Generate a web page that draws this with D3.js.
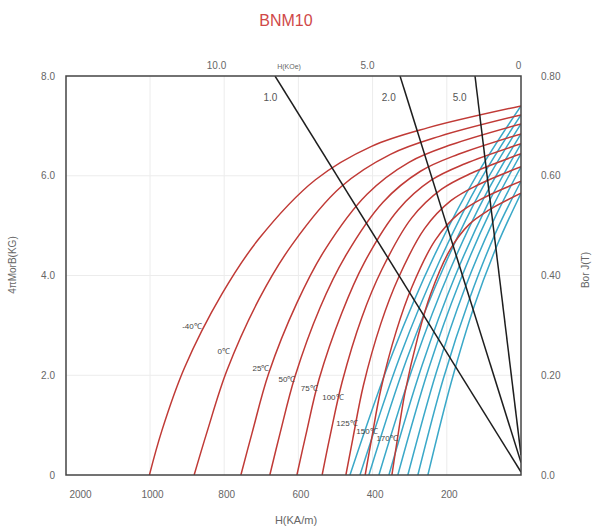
<!DOCTYPE html>
<html><head><meta charset="utf-8">
<script src="https://cdn.jsdelivr.net/npm/d3@7"></script>
<style>
body{margin:0;background:#fff;}
svg{font-family:"Liberation Sans",Arial,sans-serif;}
</style></head>
<body><svg id="c" width="600" height="530"></svg>
<script>
// ---------- data ----------
const title = "BNM10";
const temps = ["-40℃","0℃","25℃","50℃","75℃","100℃","125℃","150℃","170℃"];
// intrinsic (red) curves: [H kA/m, B kG]
const redCurves = [
  [[0,7.40],[252,6.96],[403,6.59],[554,5.92],[706,4.74],[806,3.63],[907,2.15],[968,0.89],[1008,0]],
  [[0,7.22],[220,6.79],[352,6.43],[485,5.78],[617,4.62],[705,3.54],[793,2.09],[846,0.87],[881,0]],
  [[0,7.04],[189,6.62],[302,6.27],[415,5.63],[529,4.51],[604,3.45],[680,2.04],[725,0.84],[755,0]],
  [[0,6.84],[169,6.43],[271,6.09],[372,5.47],[474,4.38],[542,3.35],[609,1.98],[650,0.82],[677,0]],
  [[0,6.64],[151,6.24],[242,5.91],[332,5.31],[423,4.25],[483,3.25],[544,1.93],[580,0.80],[604,0]],
  [[0,6.44],[134,6.05],[214,5.73],[295,5.15],[375,4.12],[429,3.16],[482,1.87],[515,0.77],[536,0]],
  [[0,6.18],[118,5.81],[189,5.50],[260,4.94],[330,3.96],[378,3.03],[425,1.79],[453,0.74],[472,0]],
  [[0,5.89],[105,5.54],[168,5.24],[231,4.71],[294,3.77],[336,2.89],[378,1.71],[403,0.71],[420,0]],
  [[0,5.65],[87,5.31],[139,5.03],[191,4.52],[244,3.62],[278,2.77],[313,1.64],[334,0.68],[348,0]]
];
// normal (blue) curves: [H kA/m, B kG]
const blueCurves = [
  [[0,7.40],[115,6.07],[231,4.44],[346,2.44],[461,0]],
  [[0,7.22],[109,5.92],[217,4.33],[326,2.38],[434,0]],
  [[0,7.04],[103,5.77],[205,4.22],[308,2.32],[410,0]],
  [[0,6.84],[96,5.61],[192,4.10],[287,2.26],[383,0]],
  [[0,6.64],[89,5.44],[178,3.98],[267,2.19],[356,0]],
  [[0,6.44],[83,5.28],[166,3.86],[249,2.13],[332,0]],
  [[0,6.18],[76,5.07],[153,3.71],[229,2.04],[305,0]],
  [[0,5.89],[70,4.83],[139,3.53],[209,1.94],[278,0]],
  [[0,5.65],[63,4.63],[126,3.39],[188,1.86],[251,0]]
];
// temperature label anchors [H, B]
const tempLabelAt = [[887,2.99],[801,2.49],[701,2.15],[631,1.92],[571,1.74],[507,1.56],[469,1.04],[415,0.88],[361,0.74]];
// load lines (permeance coefficient): endpoints [H, B]
const loadLabels = ["1.0","2.0","5.0"];
const loadLines = [
  [[663,8],[0,0.06]],
  [[326,8],[0,0.25]],
  [[124,8],[0,0.40]]
];
const bottomTicks = [2000,1000,800,600,400,200];
const bottomTickLabels = ["2000","1000","800","600","400","200"];
const topTicks = [10,5,0];
const topTickLabels = ["10.0","5.0","0"];
const leftTicks = [0,2,4,6,8];
const leftTickLabels = ["0","2.0","4.0","6.0","8.0"];
const rightTicks = [0,0.2,0.4,0.6,0.8];
const rightTickLabels = ["0.0","0.20","0.40","0.60","0.80"];
const gridH = [200,400,600,800,1000];
const gridB = [2,4,6];

// ---------- layout ----------
const L=66, R=521, T=76, B=475;
const svg = d3.select("#c");
const x = d3.scaleLinear().domain([2000,1000,0]).range([78,150,R]);
const y = d3.scaleLinear().domain([0,8]).range([B,T]);
const yT = d3.scaleLinear().domain([0,0.8]).range([B,T]);
const xTop = d3.scaleLinear().domain([0,10]).range([518,216]);

svg.append("text").attr("x",286).attr("y",26).attr("text-anchor","middle")
  .attr("font-size",16).attr("fill","#d04848").text(title);

// grid
const g = svg.append("g");
g.selectAll(".gv").data(gridH).join("line")
  .attr("x1",d=>x(d)).attr("x2",d=>x(d)).attr("y1",T).attr("y2",B)
  .attr("stroke","#ececec").attr("stroke-width",1);
g.selectAll(".gh").data(gridB).join("line")
  .attr("x1",L).attr("x2",R).attr("y1",d=>y(d)).attr("y2",d=>y(d))
  .attr("stroke","#ececec").attr("stroke-width",1);

svg.append("clipPath").attr("id","clip").append("rect")
  .attr("x",L).attr("y",T).attr("width",R-L).attr("height",B-T);
const plot = svg.append("g").attr("clip-path","url(#clip)");

const line = d3.line().x(d=>x(d[0])).y(d=>y(d[1])).curve(d3.curveCatmullRom.alpha(0.5));

plot.selectAll(".blue").data(blueCurves).join("path")
  .attr("d",line).attr("fill","none").attr("stroke","#3aa8c8").attr("stroke-width",1.5);
plot.selectAll(".red").data(redCurves).join("path")
  .attr("d",line).attr("fill","none").attr("stroke","#c03a36").attr("stroke-width",1.5);
plot.selectAll(".load").data(loadLines).join("path")
  .attr("d",d3.line().x(d=>x(d[0])).y(d=>y(d[1]))).attr("fill","none")
  .attr("stroke","#1e1e1e").attr("stroke-width",1.5);

// frame
svg.append("rect").attr("x",L).attr("y",T).attr("width",R-L).attr("height",B-T)
  .attr("fill","none").attr("stroke","#444").attr("stroke-width",1.5);

// temperature labels
svg.selectAll(".tl").data(temps).join("text")
  .attr("x",(d,i)=>x(tempLabelAt[i][0])).attr("y",(d,i)=>y(tempLabelAt[i][1])+3)
  .attr("text-anchor","middle").attr("font-size",8).attr("fill","#444")
  .text(d=>d);

// load line labels
svg.selectAll(".ll").data(loadLabels).join("text")
  .attr("x",(d,i)=>{const p=loadLines[i];const t=(8-7.57)/(8-p[1][1]);return x(p[0][0]+(p[1][0]-p[0][0])*t)-18;})
  .attr("y",y(7.57)+4).attr("text-anchor","middle").attr("font-size",10).attr("fill","#555")
  .text(d=>d);

// axes
function styleAxis(sel){
  sel.select(".domain").remove();
  sel.selectAll("text").attr("fill","#666").attr("font-size",10)
     .attr("font-family","'Liberation Sans',Arial,sans-serif");
}
svg.append("g").attr("transform",`translate(2,${B})`)
  .call(d3.axisBottom(x).tickValues(bottomTicks).tickSize(0).tickPadding(16)
    .tickFormat((d,i)=>bottomTickLabels[i])).call(styleAxis);
svg.append("g").attr("transform",`translate(0,${T})`)
  .call(d3.axisTop(xTop).tickValues(topTicks).tickSize(0).tickPadding(7)
    .tickFormat((d,i)=>topTickLabels[i])).call(styleAxis);
svg.append("g").attr("transform",`translate(${L},0)`)
  .call(d3.axisLeft(y).tickValues(leftTicks).tickSize(0).tickPadding(11)
    .tickFormat((d,i)=>leftTickLabels[i])).call(styleAxis);
svg.append("g").attr("transform",`translate(${R},0)`)
  .call(d3.axisRight(yT).tickValues(rightTicks).tickSize(0).tickPadding(20)
    .tickFormat((d,i)=>rightTickLabels[i])).call(styleAxis);

svg.append("text").attr("x",289).attr("y",69).attr("text-anchor","middle")
  .attr("font-size",7).attr("fill","#666").text("H(KOe)");
svg.append("text").attr("x",296).attr("y",524).attr("text-anchor","middle")
  .attr("font-size",11).attr("fill","#666").text("H(KA/m)");
svg.append("text").attr("transform","translate(16,265) rotate(-90)").attr("text-anchor","middle")
  .attr("font-size",10).attr("fill","#666").text("4πMorB(KG)");
svg.append("text").attr("transform","translate(589,270) rotate(-90)").attr("text-anchor","middle")
  .attr("font-size",10).attr("fill","#666").text("Bor J(T)");
</script></body></html>
